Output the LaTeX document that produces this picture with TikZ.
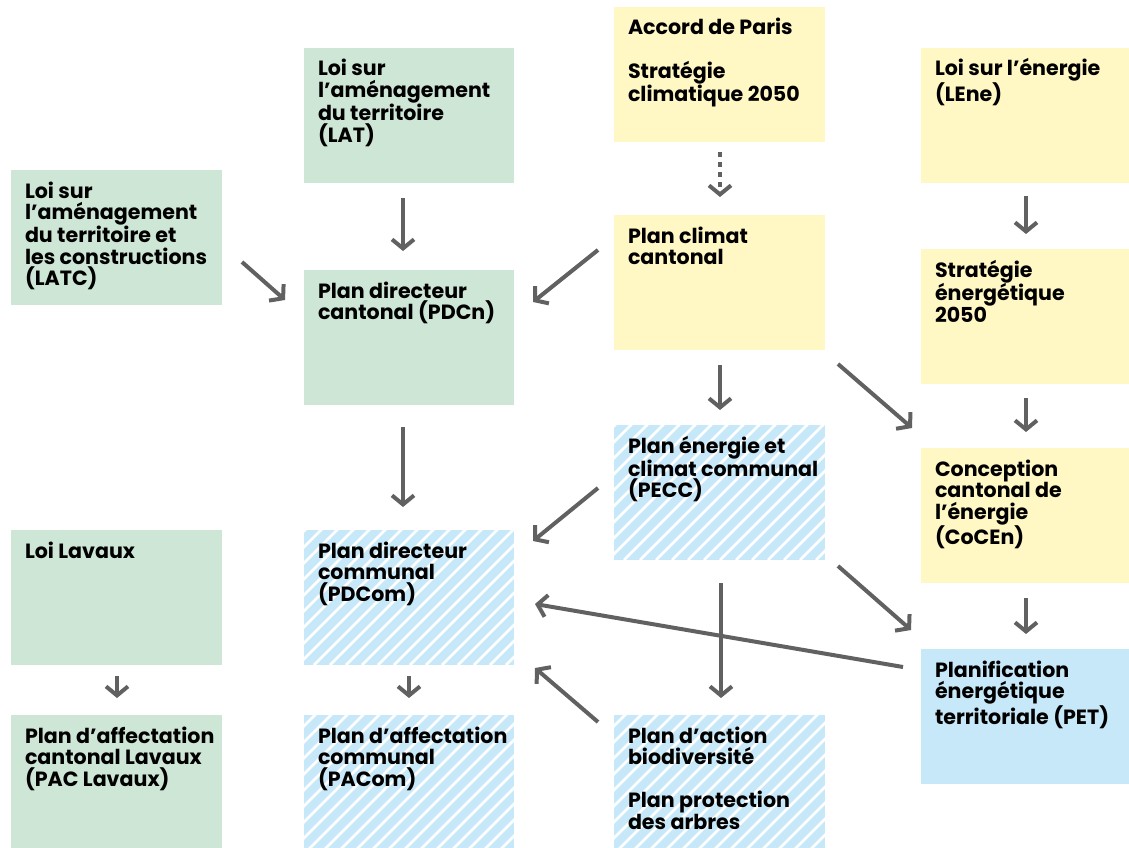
\documentclass[tikz,border=0pt]{standalone}
\usepackage{fontspec}
\setmainfont{Poppins}
\usetikzlibrary{arrows.meta,calc}
\definecolor{cgreen}{RGB}{205,230,214}
\definecolor{cyellow}{RGB}{255,247,196}
\definecolor{cblue}{RGB}{198,232,248}
\definecolor{carrow}{RGB}{97,97,97}
\tikzset{
  panel/.style={anchor=north west, inner sep=0pt, outer sep=0pt, draw=none, minimum height=135pt, minimum width=210pt},
  txt/.style={anchor=base west, inner sep=0pt, outer sep=0pt, font=\fontsize{20.6}{21.6}\selectfont\bfseries, text=black},
  arr/.style={draw=carrow, line width=4pt, -{Straight Barb[length=9pt,width=22pt,line width=4pt]}},
  dotarr/.style={arr, dash pattern=on 4.5pt off 5.5pt}
}
\newcommand\hatchpanel[1]{%
  \begin{scope}
    \clip (#1.north west) rectangle (#1.south east);
    \foreach \k in {0,...,24}{
      \draw[white, line width=2.6pt] ($(#1.south west)+(\k*16-150,0)$) -- ++(160,-160);
    }
  \end{scope}}
\newcommand\paneltext[2]{%
  \node[txt] (#1-t) at ([shift={(14,28)}]#1.north west) {\parbox[t]{200pt}{\raggedright #2}};}
\begin{document}
\begin{tikzpicture}[x=1pt,y=-1pt]
\useasboundingbox (0,0) rectangle (1129,848);
% column 1
\node[panel, fill=cgreen, minimum width=211pt] (latc) at (11,170) {};
\node[panel, fill=cgreen, minimum width=211pt] (lavaux) at (11,530) {};
\node[panel, fill=cgreen, minimum width=211pt, minimum height=145pt] (pac) at (11,715) {};
% column 2
\node[panel, fill=cgreen] (lat) at (304,48) {};
\node[panel, fill=cgreen] (pdcn) at (304,270) {};
\node[panel, fill=cblue] (pdcom) at (304,530) {};
\node[panel, fill=cblue, minimum height=145pt] (pacom) at (304,715) {};
% column 3
\node[panel, fill=cyellow, minimum width=211pt] (accord) at (614,7) {};
\node[panel, fill=cyellow, minimum width=211pt] (climat) at (614,215) {};
\node[panel, fill=cblue, minimum width=211pt] (pecc) at (614,425) {};
\node[panel, fill=cblue, minimum width=211pt, minimum height=145pt] (biodiv) at (614,715) {};
% column 4
\node[panel, fill=cyellow] (lene) at (921,48) {};
\node[panel, fill=cyellow] (strat) at (921,249) {};
\node[panel, fill=cyellow] (cocen) at (921,448) {};
\node[panel, fill=cblue] (pet) at (921,649) {};
% hatching
\hatchpanel{pdcom}
\hatchpanel{pacom}
\hatchpanel{pecc}
\hatchpanel{biodiv}
% texts
\paneltext{latc}{Loi sur\\l’aménagement\\du territoire et\\les constructions\\(LATC)}
\paneltext{lavaux}{Loi Lavaux}
\paneltext{pac}{Plan d’affectation\\cantonal Lavaux\\(PAC Lavaux)}
\paneltext{lat}{Loi sur\\l’aménagement\\du territoire\\(LAT)}
\paneltext{pdcn}{Plan directeur\\cantonal (PDCn)}
\paneltext{pdcom}{Plan directeur\\communal\\(PDCom)}
\paneltext{pacom}{Plan d’affectation\\communal\\(PACom)}
\paneltext{accord}{Accord de Paris\\[21.6pt]Stratégie\\climatique 2050}
\paneltext{climat}{Plan climat\\cantonal}
\paneltext{pecc}{Plan énergie et\\climat communal\\(PECC)}
\paneltext{biodiv}{Plan d'action\\biodiversité\\[21.6pt]Plan protection\\des arbres}
\paneltext{lene}{Loi sur l’énergie\\(LEne)}
\paneltext{strat}{Stratégie\\énergétique\\2050}
\paneltext{cocen}{Conception\\cantonal de\\l’énergie\\(CoCEn)}
\paneltext{pet}{Planification\\énergétique\\territoriale (PET)}
% arrows
\draw[arr] ([shift={(-6,15)}]lat.south) -- ([shift={(-6,-19)}]pdcn.north);
\draw[arr] ([shift={(20,24.5)}]latc.east) -- ([shift={(-19,-37.5)}]pdcn.west);
\draw[arr] ([shift={(-16,-32.5)}]climat.west) -- ([shift={(19,-35.5)}]pdcn.east);
\draw[dotarr] ([shift={(0.5,10)}]accord.south) -- ([shift={(0.5,-18)}]climat.north);
\draw[arr] ([shift={(0,13)}]lene.south) -- ([shift={(0,-15)}]strat.north);
\draw[arr] ([shift={(0.5,15)}]climat.south) -- ([shift={(0.5,-15)}]pecc.north);
\draw[arr] ([shift={(13,14)}]climat.south east) -- ([shift={(-9,-20)}]cocen.north west);
\draw[arr] ([shift={(0,14)}]strat.south) -- ([shift={(0,-16)}]cocen.north);
\draw[arr] ([shift={(-6,22)}]pdcn.south) -- ([shift={(-6,-23)}]pdcom.north);
\draw[arr] ([shift={(-16,-4.5)}]pecc.west) -- ([shift={(19,11)}]pdcom.north east);
\draw[arr] ([shift={(13,6)}]pecc.south east) -- ([shift={(-10,-19)}]pet.north west);
\draw[arr] ([shift={(-18,-49.5)}]pet.west) -- ([shift={(21,6.5)}]pdcom.east);
\draw[arr] ([shift={(1.5,23)}]pecc.south) -- ([shift={(1.5,-17)}]biodiv.north);
\draw[arr] ([shift={(-16,7)}]biodiv.north west) -- ([shift={(21,3)}]pdcom.south east);
\draw[arr] ([shift={(0.5,11)}]lavaux.south) -- ([shift={(0.5,-17)}]pac.north);
\draw[arr] ([shift={(0,11)}]pdcom.south) -- ([shift={(0,-17)}]pacom.north);
\draw[arr] ([shift={(0,15)}]cocen.south) -- ([shift={(0,-15)}]pet.north);
\end{tikzpicture}
\end{document}
